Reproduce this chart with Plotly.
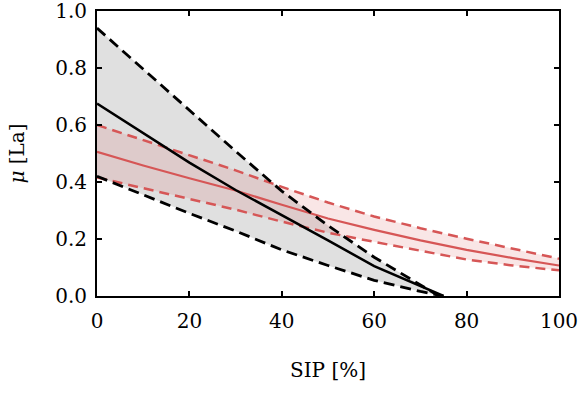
import plotly.graph_objects as go

# Black model (mean and bounds)
bx_mid = [0, 10, 20, 30, 40, 50, 60, 70, 75]
by_mid = [0.675, 0.57, 0.468, 0.372, 0.285, 0.195, 0.105, 0.035, 0.0]
bx_up = [0, 10, 20, 30, 40, 50, 60, 70, 74]
by_up = [0.94, 0.795, 0.652, 0.508, 0.368, 0.247, 0.136, 0.04, 0.0]
bx_lo = [0, 10, 20, 30, 40, 50, 60, 70, 75]
by_lo = [0.42, 0.355, 0.29, 0.228, 0.162, 0.107, 0.055, 0.016, 0.0]

# Red model (mean and bounds)
rx = [0, 10, 20, 30, 40, 50, 60, 70, 80, 90, 100]
ry_mid = [0.506, 0.458, 0.413, 0.37, 0.32, 0.272, 0.232, 0.195, 0.162, 0.133, 0.107]
ry_up = [0.60, 0.547, 0.494, 0.441, 0.383, 0.328, 0.279, 0.238, 0.201, 0.166, 0.131]
ry_lo = [0.416, 0.378, 0.342, 0.303, 0.261, 0.222, 0.19, 0.158, 0.128, 0.107, 0.09]

x_ticks = [0, 20, 40, 60, 80, 100]
y_ticks = [0.0, 0.2, 0.4, 0.6, 0.8, 1.0]

RED = "rgb(214,86,86)"
FONT = "DejaVu Serif"
FS = 20

fig = go.Figure()
fig.add_trace(go.Scatter(x=bx_up + bx_lo[::-1], y=by_up + by_lo[::-1], fill="toself",
                         fillcolor="rgba(0,0,0,0.12)", line=dict(width=0), mode="lines",
                         hoverinfo="skip", showlegend=False))
fig.add_trace(go.Scatter(x=rx + rx[::-1], y=ry_up + ry_lo[::-1], fill="toself",
                         fillcolor="rgba(214,86,86,0.15)", line=dict(width=0), mode="lines",
                         hoverinfo="skip", showlegend=False))
for yv in (ry_up, ry_lo):
    fig.add_trace(go.Scatter(x=rx, y=yv, mode="lines", showlegend=False,
                             line=dict(color=RED, width=2.5, dash="10px,6px")))
fig.add_trace(go.Scatter(x=rx, y=ry_mid, mode="lines", showlegend=False,
                         line=dict(color=RED, width=2.2)))
fig.add_trace(go.Scatter(x=bx_up, y=by_up, mode="lines", showlegend=False,
                         line=dict(color="black", width=2.8, dash="11px,6px")))
fig.add_trace(go.Scatter(x=bx_lo, y=by_lo, mode="lines", showlegend=False,
                         line=dict(color="black", width=2.8, dash="11px,6px")))
fig.add_trace(go.Scatter(x=bx_mid, y=by_mid, mode="lines", showlegend=False,
                         line=dict(color="black", width=2.5)))

axis_common = dict(showline=True, linecolor="black", linewidth=2, mirror="ticks",
                   ticks="inside", ticklen=5, tickwidth=1.5, tickcolor="black",
                   showgrid=False, zeroline=False, automargin=False,
                   ticklabeloverflow="allow",
                   tickfont=dict(family=FONT, size=FS, color="black"))
fig.update_xaxes(range=[0, 100], tickvals=x_ticks, ticktext=[str(v) for v in x_ticks],
                 ticklabelstandoff=6,
                 title=dict(text="SIP [%]", font=dict(family=FONT, size=FS, color="black"), standoff=31),
                 **axis_common)
fig.update_yaxes(range=[0, 1.0], tickvals=y_ticks, ticktext=[f"{v:.1f}" for v in y_ticks],
                 ticklabelstandoff=4,
                 title=dict(text="<i>μ</i> [La]", font=dict(family=FONT, size=FS, color="black"), standoff=25),
                 **axis_common)
fig.update_layout(width=578, height=394, margin=dict(l=97, r=19, t=11, b=98),
                  font=dict(family=FONT),
                  plot_bgcolor="white", paper_bgcolor="white")
fig.write_html("out.html")
